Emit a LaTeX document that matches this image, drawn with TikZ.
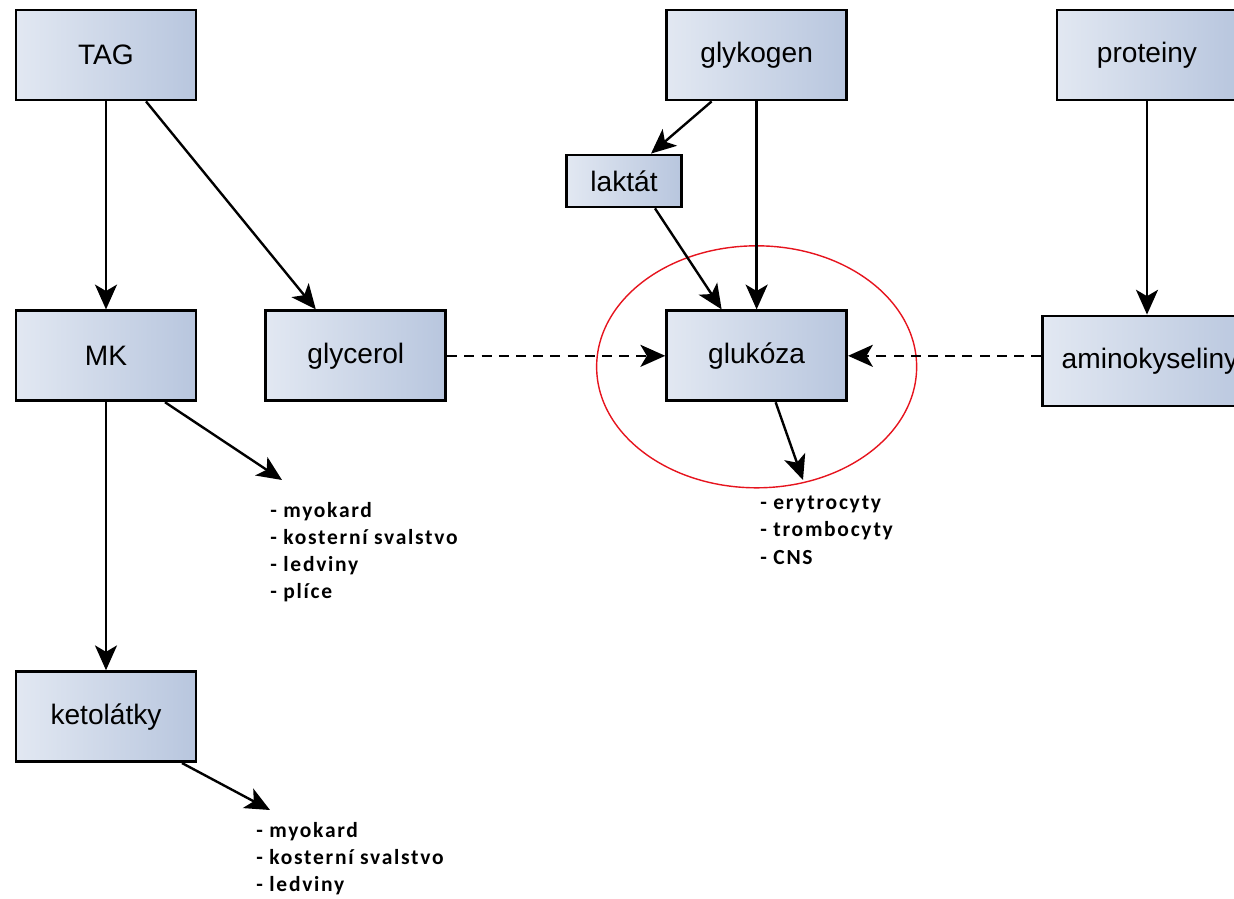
\documentclass[tikz,border=0pt]{standalone}
\usepackage{fontspec}
\setmainfont{Liberation Sans}
\newfontfamily\listfont{Carlito}[LetterSpace=8]
\usetikzlibrary{arrows.meta, positioning}
\definecolor{BoxLight}{RGB}{226,232,242}
\definecolor{BoxDark}{RGB}{184,198,222}
\definecolor{RingRed}{RGB}{230,20,30}

\begin{document}
\begin{tikzpicture}[
  x=0.25mm, y=-0.25mm,
  font=\fontsize{20}{24}\selectfont,
  box/.style={draw, line width=2pt, left color=BoxLight, right color=BoxDark, minimum width=45mm, minimum height=22.5mm, inner sep=0pt, align=center},
  smallbox/.style={box, minimum width=28.75mm, minimum height=13mm},
  organs/.style={anchor=north west, inner sep=0pt, align=left, font=\listfont\bfseries\fontsize{15.3}{19.3}\selectfont},
  arr/.style={-{Stealth[length=6.2mm, width=5.5mm, inset=1.6mm]}, line width=1.7pt},
  darr/.style={arr, dash pattern=on 2.5mm off 1.8mm},
  ring/.style={draw=RingRed, line width=1pt}
]
  \useasboundingbox (0,0) rectangle (1234,899);

  % left column
  \node[box] (tag) at (106,55) {TAG};
  \node[box, below=52mm of tag] (mk) {MK};
  \node[box, below=67mm of mk] (keto) {ketolátky};
  \node[box, right=16.75mm of mk] (glycerol) {glycerol};

  % middle
  \node[box, right=54.5mm of glycerol] (glukoza) {glukóza};
  \node[box, above=52mm of glukoza] (glykogen) {glykogen};
  \node[smallbox] (laktat) at (624,181) {laktát};

  % right
  \node[box] (proteiny) at (1147,55) {proteiny};
  \node[box, minimum width=53.75mm] (amino) at (1150,361) {aminokyseliny};

  % organs
  \node[organs] (mklist) at (270,502) {- myokard\\- kosterní svalstvo\\- ledviny\\- plíce};
  \node[organs] (gllist) at (760,496) {- erytrocyty\\- trombocyty\\- CNS};
  \node[organs] (ketolist) at (256,822) {- myokard\\- kosterní svalstvo\\- ledviny};
  \coordinate (mkend) at (282,480);
  \coordinate (glend) at (803,480);
  \coordinate (ketoend) at (270,810);

  \draw[ring] ([yshift=-2.75mm]glukoza.center) ellipse [x radius=40mm, y radius=30.25mm];

  \draw[arr] (tag) -- (mk);
  \draw[arr] ([xshift=10mm]tag.south) -- ([xshift=-10mm]glycerol.north);
  \draw[arr] (mk) -- (keto);
  \draw[arr] ([xshift=14.75mm]mk.south) -- (mkend);
  \draw[arr] ([xshift=19mm]keto.south) -- (ketoend);
  \draw[darr] (glycerol) -- (glukoza);
  \draw[darr] (amino.west |- glukoza) -- (glukoza.east);
  \draw[arr] ([xshift=-11.25mm]glykogen.south) -- ([xshift=6.75mm]laktat.north);
  \draw[arr] (glykogen) -- (glukoza);
  \draw[arr] ([xshift=7.75mm]laktat.south) -- ([xshift=-8.75mm]glukoza.north);
  \draw[arr] (proteiny.south) -- (proteiny.south |- amino.north);
  \draw[arr] ([xshift=4.75mm]glukoza.south) -- (glend);
\end{tikzpicture}
\end{document}
